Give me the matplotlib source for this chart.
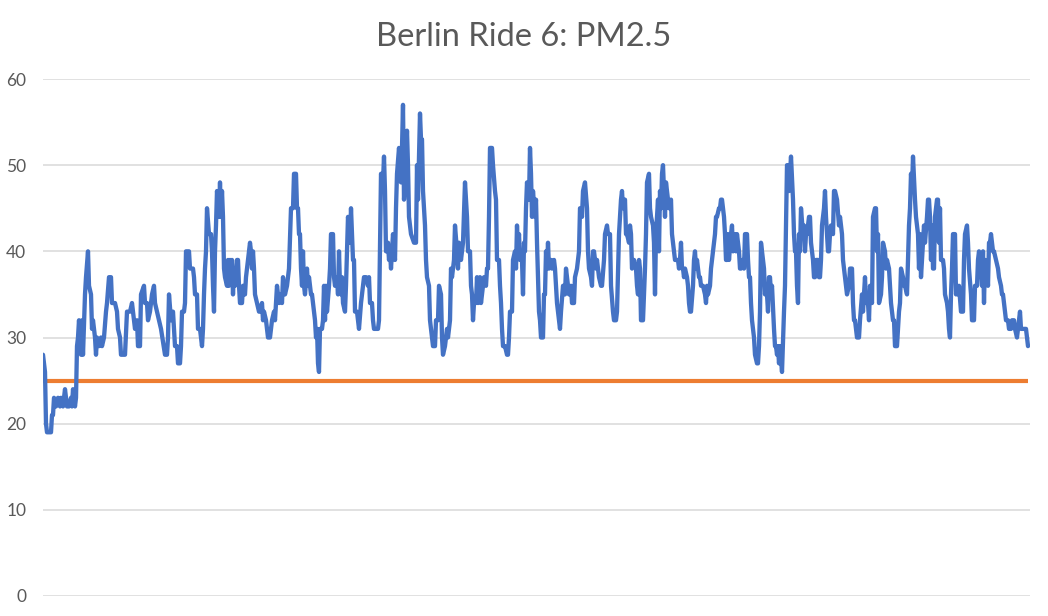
import matplotlib
matplotlib.use("Agg")
import matplotlib.pyplot as plt

# sample number along the ride (one reading per step) and PM2.5 value (ug/m3)
sample = [
    0, 2, 3, 4, 8, 9, 10, 11, 13, 15, 17, 18, 20, 22, 24, 26, 28, 29, 30, 32, 33, 34, 35, 36, 38, 39, 40, 42, 43, 45, 46, 48, 49, 50, 52, 53, 54, 56, 58, 59, 61, 63, 64, 66, 68, 69, 72, 74, 75, 77, 78, 82, 84, 87, 89, 90, 92, 94, 95, 97, 98, 101, 102, 104, 105, 107, 109, 111, 112, 114, 116, 118,
    122, 124, 125, 126, 128, 130, 131, 132, 134, 135, 137, 138, 139, 141, 142, 143, 146, 147, 150, 151, 152, 154, 155, 157, 159, 160, 161, 162, 163, 164, 166, 168, 169, 170, 171, 172, 173, 174, 176, 177, 178, 179, 180, 181, 182, 184, 185, 186, 187, 188, 189, 190, 191, 192, 194, 195, 196, 197, 199, 200, 201, 202, 203, 204, 206, 207, 208, 209, 210, 211, 212, 214, 216, 217, 219, 220, 221, 223, 225, 227, 229, 231, 232, 234, 236, 237, 239, 240, 242, 244, 246,
    248, 250, 251, 253, 254, 255, 256, 257, 258, 259, 260, 261, 262, 264, 265, 266, 268, 269, 271, 272, 273, 274, 275, 276, 277, 279, 280, 281, 282, 283, 284, 286, 287, 288, 290, 291, 292, 294, 295, 296, 297, 298, 299, 300, 302, 303, 304, 305, 307, 308, 310, 311, 312, 314, 315, 316, 318, 320, 321, 323, 325, 326, 327, 329, 330, 331, 335, 336, 337, 338, 340, 341, 342, 343, 345, 346, 347, 348, 350, 352, 353, 354, 356, 358, 359, 360, 361, 362, 364, 365, 366,
    368, 371, 373, 374, 375, 377, 378, 379, 380, 381, 382, 383, 384, 386, 387, 388, 390, 392, 393, 395, 396, 398, 399, 400, 402, 404, 405, 406, 407, 408, 409, 411, 412, 414, 415, 416, 418, 419, 420, 422, 423, 424, 425, 427, 428, 429, 430, 431, 433, 434, 435, 437, 438, 440, 441, 443, 444, 445, 446, 447, 449, 450, 452, 453, 454, 456, 457, 458, 459, 460, 462, 464, 465, 466, 467, 469, 470, 472, 473, 474, 475, 476, 477, 479, 480, 481, 482, 483, 484, 486, 487, 488, 489, 490, 492,
    493, 494, 495, 496, 497, 498, 500, 501, 502, 503, 504, 505, 506, 508, 509, 511, 512, 513, 514, 516, 517, 518, 520, 522, 523, 525, 526, 528, 529, 531, 532, 534, 535, 536, 537, 538, 539, 540, 542, 544, 545, 546, 548, 549, 550, 551, 553, 554, 555, 556, 558, 559, 561, 562, 564, 565, 567, 568, 570, 571, 573, 574, 576, 578, 579, 580, 582, 583, 584, 586, 587, 588, 589, 591, 593, 594, 595, 596, 597, 598, 600, 602, 603, 604, 606, 607, 608, 610, 611, 612, 613, 615, 616,
    617, 618, 619, 620, 622, 623, 624, 625, 626, 628, 629, 630, 631, 632, 635, 636, 637, 638, 639, 640, 641, 642, 644, 645, 646, 647, 648, 650, 651, 652, 653, 654, 656, 657, 658, 660, 662, 663, 664, 665, 667, 668, 669, 670, 672, 673, 674, 676, 677, 678, 679, 681, 682, 683, 684, 685, 686, 688, 689, 690, 692, 693, 694, 696, 697, 698, 700, 701, 702, 704, 705, 706, 707, 708, 709, 711, 712, 714, 715, 716, 717, 718, 720, 721, 722, 723, 724, 725, 726, 727, 728, 729, 731, 732, 733, 734, 735, 736, 737, 739,
    741, 742, 744, 745, 746, 748, 750, 751, 752, 753, 754, 755, 756, 757, 758, 760, 761, 762, 763, 764, 766, 767, 768, 770, 771, 772, 773, 775, 776, 777, 778, 779, 781, 782, 783, 785, 786, 787, 788, 790, 791, 792, 794, 796, 797, 799, 800, 802, 803, 804, 806, 807, 809, 810, 811, 812, 814, 816, 817, 819, 820, 822, 823, 825, 826, 827, 828, 829, 830, 832, 833, 834, 835, 836, 838, 839, 840, 842, 843, 844, 846, 847, 848, 850, 851, 852, 854, 856, 857, 858, 860, 861, 862, 864,
    866, 867, 868, 869, 870, 872, 873, 874, 875, 876, 877, 878, 879, 880, 881, 882, 884, 885, 886, 887, 888, 889, 890, 891, 892, 894, 895, 896, 897, 898, 900, 901, 902, 904, 905, 906, 907, 908, 909, 910, 912, 913, 914, 915, 916, 918, 920, 921, 922, 924, 925, 926, 928, 929, 931, 932, 934, 935, 936, 938, 939, 940, 941, 942, 944, 945, 946, 947, 948, 950, 951, 953, 955, 956, 958, 959, 960, 962, 963, 965, 966, 968, 969, 971, 972, 974, 975, 977, 978, 983, 985,
]
pm25 = [
    28, 26, 20, 19, 19, 21, 21, 23, 22, 23, 22, 23, 22, 24, 22, 22, 23, 22, 24, 22, 23, 29, 30, 32, 28, 32, 28, 35, 37, 40, 36, 35, 31, 32, 30, 28, 30, 29, 30, 29, 30, 33, 34, 37, 37, 34, 34, 33, 31, 30, 28, 28, 33, 33, 34, 33, 31, 32, 29, 29, 35, 36, 34, 34, 32, 33, 35, 36, 34, 33, 32, 31,
    28, 28, 30, 35, 32, 33, 31, 29, 29, 27, 27, 29, 33, 33, 34, 40, 40, 38, 38, 37, 35, 35, 31, 31, 29, 31, 35, 38, 40, 45, 42, 42, 40, 36, 33, 40, 43, 47, 44, 48, 44, 47, 44, 38, 37, 36, 39, 36, 39, 37, 39, 35, 38, 36, 39, 39, 36, 34, 34, 36, 35, 35, 37, 38, 40, 41, 40, 38, 40, 38, 35, 34, 33, 33, 34, 32, 33, 32, 30, 30, 32, 33, 32, 36, 34, 35, 34, 37, 35, 36, 38,
    45, 45, 49, 49, 45, 45, 42, 42, 38, 36, 40, 36, 35, 38, 36, 37, 35, 35, 33, 32, 30, 31, 27, 26, 31, 31, 32, 36, 32, 36, 33, 36, 38, 42, 42, 37, 36, 37, 35, 40, 36, 35, 37, 34, 33, 36, 40, 44, 41, 45, 39, 39, 33, 33, 32, 31, 34, 36, 37, 37, 36, 37, 34, 34, 32, 31, 31, 32, 41, 49, 48, 51, 47, 40, 41, 39, 40, 38, 42, 39, 45, 49, 52, 48, 52, 57, 46, 48, 54, 50, 44,
    42, 41, 41, 50, 46, 56, 53, 53, 47, 45, 43, 39, 37, 36, 32, 31, 29, 29, 32, 32, 36, 35, 30, 28, 29, 31, 30, 31, 32, 38, 37, 39, 43, 40, 38, 41, 39, 40, 41, 48, 46, 44, 40, 40, 36, 35, 32, 34, 34, 37, 34, 37, 34, 36, 37, 36, 38, 38, 44, 52, 52, 50, 47, 46, 39, 39, 36, 34, 31, 29, 29, 28, 28, 30, 33, 33, 39, 40, 38, 43, 40, 42, 39, 39, 35, 41, 40, 45, 48, 46, 52, 49, 44, 47, 44,
    46, 41, 37, 33, 32, 30, 30, 35, 35, 40, 38, 41, 38, 39, 38, 39, 38, 36, 34, 32, 31, 33, 36, 35, 38, 36, 35, 36, 34, 34, 37, 38, 39, 40, 45, 45, 44, 47, 48, 45, 40, 38, 37, 36, 40, 40, 38, 39, 38, 37, 36, 36, 39, 42, 43, 42, 42, 36, 33, 32, 32, 33, 42, 46, 47, 45, 46, 42, 42, 41, 43, 42, 38, 39, 38, 36, 35, 39, 38, 32, 32, 38, 42, 48, 49, 45, 44, 43, 41, 35, 42, 46, 40,
    47, 45, 49, 50, 44, 48, 47, 46, 45, 46, 42, 41, 40, 39, 39, 38, 39, 41, 38, 38, 37, 38, 37, 36, 34, 33, 33, 36, 39, 40, 38, 39, 37, 37, 36, 36, 35, 34, 36, 35, 36, 38, 39, 40, 42, 44, 44, 45, 45, 46, 46, 44, 42, 39, 39, 42, 39, 42, 43, 40, 42, 40, 42, 40, 38, 38, 39, 38, 42, 42, 39, 37, 37, 34, 32, 30, 28, 27, 27, 29, 33, 41, 39, 38, 35, 36, 35, 33, 37, 37, 35, 36, 31, 29, 29, 28, 29, 27, 29, 26,
    33, 36, 50, 50, 47, 51, 46, 42, 40, 40, 36, 34, 42, 40, 45, 42, 43, 40, 42, 42, 44, 44, 41, 39, 37, 37, 39, 39, 37, 37, 39, 43, 45, 47, 44, 40, 40, 42, 43, 42, 47, 47, 46, 43, 44, 42, 39, 37, 36, 35, 36, 38, 38, 34, 32, 32, 30, 30, 32, 35, 33, 37, 34, 34, 32, 36, 35, 34, 44, 45, 45, 40, 42, 34, 35, 37, 41, 40, 38, 39, 38, 36, 34, 32, 32, 29, 29, 33, 34, 38, 37, 36, 36, 35,
    43, 45, 49, 47, 51, 46, 44, 43, 42, 38, 42, 37, 39, 41, 43, 41, 44, 46, 46, 44, 39, 43, 38, 38, 44, 46, 46, 41, 45, 39, 39, 38, 35, 34, 33, 31, 30, 35, 38, 42, 42, 35, 36, 35, 36, 33, 33, 39, 42, 43, 41, 38, 35, 32, 32, 36, 36, 39, 40, 38, 36, 40, 34, 39, 38, 36, 41, 41, 42, 40, 40, 39, 38, 37, 36, 35, 35, 33, 32, 32, 31, 31, 32, 32, 31, 30, 31, 33, 31, 31, 29,
]
assert len(sample) == len(pm25), (len(sample), len(pm25))

limit = 25  # reference level drawn in orange
y_ticks = [0, 10, 20, 30, 40, 50, 60]
title = "Berlin Ride 6: PM2.5"

BLUE = "#4472C4"
ORANGE = "#ED7D31"
GREY = "#595959"

plt.rcParams["font.family"] = ["Lato", "DejaVu Sans"]

fig = plt.figure(figsize=(10.48, 6.16), dpi=100)
ax = fig.add_axes([43 / 1048, 20 / 616, 987 / 1048, 517 / 616])

ax.plot(sample, pm25, color=BLUE, linewidth=3.1, solid_joinstyle="round",
        solid_capstyle="round", zorder=3)
ax.plot([sample[0], sample[-1]], [limit, limit], color=ORANGE, linewidth=3.0,
        solid_capstyle="butt", zorder=2)

ax.set_xlim(0, 987)
ax.set_ylim(0, 60)
ax.set_yticks(y_ticks)
ax.set_xticks([])
ax.yaxis.grid(True, color="#D9D9D9", linewidth=1.1)
ax.set_axisbelow(True)
for side in ["top", "right", "left", "bottom"]:
    ax.spines[side].set_visible(False)
ax.tick_params(axis="y", length=0, pad=12, labelsize=12.5, labelcolor=GREY)

fig.text(0.5, 1 - 37 / 616, title, ha="center", va="center",
         fontsize=23.5, color=GREY)

fig.savefig("out.png", dpi=100)
